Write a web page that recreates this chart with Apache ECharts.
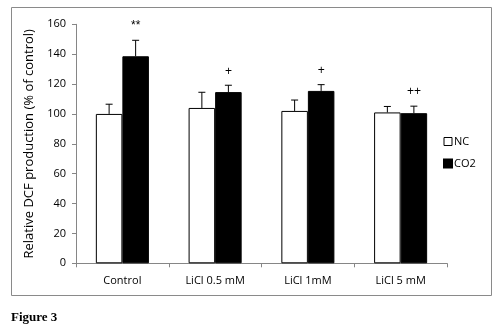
<!DOCTYPE html>
<html><head><meta charset="utf-8">
<script src="https://cdn.jsdelivr.net/npm/echarts@6/dist/echarts.min.js"></script>
<style>html,body{margin:0;padding:0;background:#fff}#c{width:502px;height:332px}</style>
</head><body><div id="c"></div>
<script>
var categories = ['Control', 'LiCl 0.5 mM', 'LiCl 1mM', 'LiCl 5 mM'];
var ncValues = [100, 104, 102, 101];
var ncErrTop = [106.5, 114.5, 109.3, 105];
var co2Values = [138.6, 114.6, 115.4, 100.5];
var co2ErrTop = [149.3, 119.2, 119.6, 105.2];
var co2Marks = ['**', '+', '+', '++'];
var yTicks = [0, 20, 40, 60, 80, 100, 120, 140, 160];

var BAR_RATIO = 0.286;
function errSeries(name, tops, vals, side, marks) {
  var data = categories.map(function (c, i) { return [i, vals[i], tops[i], marks ? marks[i] : '']; });
  return {
    type: 'custom', name: name + '_err', data: data, z: 5, silent: true,
    renderItem: function (params, api) {
      var i = api.value(0);
      var base = api.coord([i, api.value(1)]);
      var top = api.coord([i, api.value(2)]);
      var cw = api.size([1, 0])[0];
      var bw = cw * BAR_RATIO;
      var x = base[0] + side * bw / 2;
      var children = [
        { type: 'line', shape: { x1: x, y1: base[1], x2: x, y2: top[1] }, style: { stroke: '#000', lineWidth: 1 } },
        { type: 'line', shape: { x1: x - 3.5, y1: top[1], x2: x + 3.5, y2: top[1] }, style: { stroke: '#000', lineWidth: 1 } }
      ];
      var m = data[params.dataIndex][3];
      if (m) {
        children.push({ type: 'text', x: x, y: top[1] - 8 - (m === '**' ? 1 : 0), style: { text: m, fill: '#000', font: '12px "Liberation Sans", Arial', align: 'center', verticalAlign: 'bottom' } });
      }
      return { type: 'group', children: children };
    }
  };
}

var chart = echarts.init(document.getElementById('c'), null, { renderer: 'canvas' });
chart.setOption({
  animation: false,
  backgroundColor: '#fff',
  grid: { left: 76, right: 55, top: 24.3, bottom: 68.7, containLabel: false },
  graphic: [
    { type: 'rect', shape: { x: 11.5, y: 7.5, width: 480, height: 288 }, style: { fill: 'none', stroke: '#8a8a8a', lineWidth: 1 }, z: -1 },
    { type: 'text', left: 11, top: 311, style: { text: 'Figure 3', font: 'bold 13px "Liberation Serif", "Times New Roman", serif', fill: '#000' } }
  ],
  legend: {
    orient: 'vertical', left: 438, top: 131, itemWidth: 8, itemHeight: 8, itemGap: 11,
    icon: 'rect',
    textStyle: { fontFamily: '"Open Sans", "Liberation Sans", sans-serif', fontSize: 11, color: '#000', padding: [0, 0, 0, -3] },
    data: [
      { name: 'NC', itemStyle: { color: '#fff', borderColor: '#000', borderWidth: 1 } },
      { name: 'CO2', itemStyle: { color: '#000' } }
    ]
  },
  xAxis: {
    type: 'category', data: categories,
    axisLine: { lineStyle: { color: '#868686' } },
    axisTick: { show: true, length: 4, lineStyle: { color: '#868686' } },
    axisLabel: { color: '#000', fontSize: 11, fontFamily: '"Open Sans", "Liberation Sans", sans-serif', margin: 12 }
  },
  yAxis: {
    type: 'value', min: 0, max: 160, interval: 20,
    name: 'Relative DCF production (% of control)', nameLocation: 'middle', nameGap: 39,
    nameTextStyle: { color: '#000', fontSize: 13, fontFamily: '"Open Sans", "Liberation Sans", sans-serif' },
    axisLine: { show: true, lineStyle: { color: '#868686' } },
    axisTick: { show: true, length: 4, lineStyle: { color: '#868686' } },
    splitLine: { show: false },
    axisLabel: { color: '#000', fontSize: 11, fontFamily: '"Open Sans", "Liberation Sans", sans-serif', margin: 10,
      formatter: function (v) { return yTicks.indexOf(v) >= 0 ? String(v) : ''; } }
  },
  series: [
    { name: 'NC', type: 'bar', data: ncValues, barWidth: (BAR_RATIO * 100) + '%', barGap: '0%',
      itemStyle: { color: '#fff', borderColor: '#000', borderWidth: 1 } },
    { name: 'CO2', type: 'bar', data: co2Values, barWidth: (BAR_RATIO * 100) + '%', barGap: '0%',
      itemStyle: { color: '#000', borderColor: '#000', borderWidth: 1 } },
    errSeries('NC', ncErrTop, ncValues, -1, null),
    errSeries('CO2', co2ErrTop, co2Values, 1, co2Marks)
  ]
});
</script>
</body></html>
